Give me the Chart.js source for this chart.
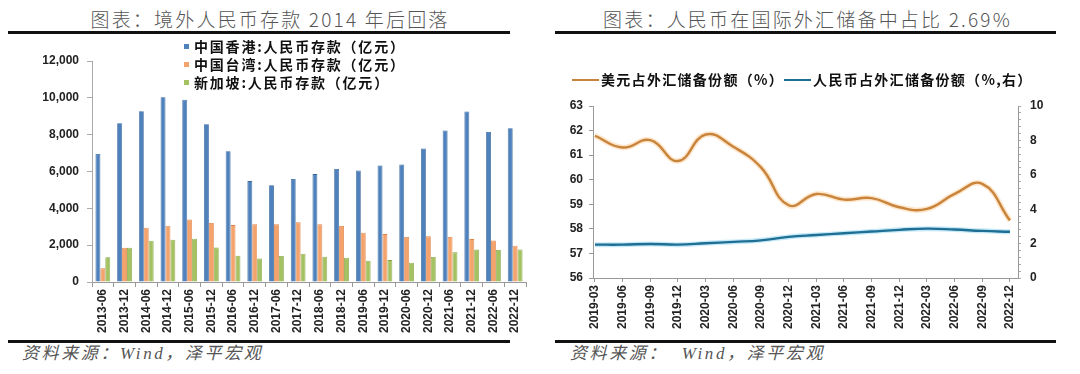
<!DOCTYPE html>
<html>
<head>
<meta charset="utf-8">
<script src="https://cdn.jsdelivr.net/npm/chart.js@4.4.1/dist/chart.umd.min.js"></script>
<style>
  html, body { margin:0; padding:0; background:#fff; }
  body { width:1080px; height:374px; position:relative; overflow:hidden; font-family:"Noto Sans CJK SC", sans-serif; }
  .abs { position:absolute; }
  .title { font-family:"Noto Sans CJK SC", "Liberation Serif", serif; font-weight:300; font-size:19px; color:#555; white-space:nowrap; letter-spacing:2.2px; line-height:20px; }
  .rule { background:#111; }
  .src { font-family:"Liberation Serif", "Noto Sans CJK SC", serif; font-style:italic; font-size:17px; color:#555; white-space:nowrap; letter-spacing:2.6px; line-height:18px; }
  .leg { font-weight:700; font-size:14px; color:#111; white-space:nowrap; line-height:18px; letter-spacing:1.8px; }
  .leg2 { letter-spacing:1.3px; }
  .sw { display:inline-block; width:5px; height:5px; margin-right:5px; vertical-align:middle; position:relative; top:-2px; }
  .ln { display:inline-block; width:27px; height:2px; margin-right:2px; vertical-align:middle; position:relative; top:-1px; }
  canvas { position:absolute; }
</style>
</head>
<body>
<div class="abs title" id="t1" style="left:0;width:540px;text-align:center;top:9px;">图表：境外人民币存款 2014 年后回落</div>
<div class="abs rule" style="left:8px;width:502px;top:31px;height:3px;"></div>
<div class="abs rule" style="left:8px;width:502px;top:340px;height:3px;"></div>
<div class="abs src" style="left:22px;top:345px;">资料来源：Wind，泽平宏观</div>

<div class="abs title" id="t2" style="left:555px;width:505px;text-align:center;top:9px;">图表：人民币在国际外汇储备中占比 2.69%</div>
<div class="abs rule" style="left:555px;width:501px;top:31px;height:3px;"></div>
<div class="abs rule" style="left:555px;width:501px;top:340px;height:3px;"></div>
<div class="abs src" style="left:570px;top:345px;">资料来源：&nbsp; Wind，泽平宏观</div>

<canvas id="c1" style="left:0;top:36px;" width="540" height="306"></canvas>
<canvas id="c2" style="left:540px;top:36px;" width="540" height="306"></canvas>

<div class="abs" id="leg1" style="left:184px;top:37px;"></div>
<div class="abs" id="leg2" style="left:572px;top:70px;"></div>

<script>
// ---------- Data: chart 1 (offshore RMB deposits, 亿元) ----------
const categories1 = ['2013-06','2013-12','2014-06','2014-12','2015-06','2015-12','2016-06','2016-12','2017-06','2017-12','2018-06','2018-12','2019-06','2019-12','2020-06','2020-12','2021-06','2021-12','2022-06','2022-12'];
const hongKong  = [6950,8620,9270,10030,9900,8570,7100,5480,5260,5590,5860,6140,6050,6320,6380,7250,8230,9260,8150,8350];
const taiwan    = [740,1860,2950,3060,3400,3200,3090,3130,3130,3240,3130,3040,2680,2600,2440,2480,2440,2330,2260,1970];
const singapore = [1340,1860,2240,2300,2350,1880,1430,1280,1410,1540,1370,1320,1160,1190,1050,1360,1610,1770,1740,1770];
const seriesNames1 = ['中国香港:人民币存款（亿元）','中国台湾:人民币存款（亿元）','新加坡:人民币存款（亿元）'];
const yTicks1 = [0,2000,4000,6000,8000,10000,12000];

// ---------- Data: chart 2 (share of FX reserves, %) ----------
const categories2 = ['2019-03','2019-06','2019-09','2019-12','2020-03','2020-06','2020-09','2020-12','2021-03','2021-06','2021-09','2021-12','2022-03','2022-06','2022-09','2022-12'];
const usdShare = [61.79,61.31,61.61,60.76,61.84,61.34,60.50,58.96,59.42,59.19,59.25,58.88,58.81,59.42,59.83,58.34];
const rmbShare = [1.94,1.94,1.98,1.94,2.02,2.10,2.19,2.39,2.50,2.60,2.70,2.80,2.87,2.82,2.74,2.69];
const seriesNames2 = ['美元占外汇储备份额（%）','人民币占外汇储备份额（%,右）'];
const leftTicks2 = [56,57,58,59,60,61,62,63];
const rightTicks2 = [0,2,4,6,8,10];

// ---------- Styles ----------
const barFill   = ['#4F81BD','#F4A36C','#A4C262'];
const barBorder = ['#3B6A9F','#E0844A','#86A544'];
const lineColor = ['#C9843C','#1F6F95'];
const glowColor = ['rgba(250,200,140,0.45)','rgba(150,215,240,0.55)'];
const tickFont = { family:'"Liberation Sans", Arial, sans-serif', size:12, weight:'bold' };

// legends (HTML)
document.getElementById('leg1').innerHTML = seriesNames1.map((n,i)=>
  `<div class="leg"><span class="sw" style="background:${barFill[i]}"></span>${n}</div>`).join('');
document.getElementById('leg2').innerHTML = '<div class="leg leg2">' + seriesNames2.map((n,i)=>
  `<span class="ln" style="background:${lineColor[i]}"></span>${n}`).join('') + '</div>';

// ---------- Chart 1 ----------
new Chart(document.getElementById('c1'), {
  type:'bar',
  data:{
    labels:categories1,
    datasets:[hongKong,taiwan,singapore].map((d,i)=>({
      label:seriesNames1[i], data:d, backgroundColor:barFill[i], borderColor:barBorder[i], borderWidth:0.8,
      barPercentage:1.0, categoryPercentage:0.68
    }))
  },
  options:{
    responsive:false, animation:false, devicePixelRatio:1,
    layout:{ padding:{ top:25, right:14, left:0, bottom:0 } },
    plugins:{ legend:{ display:false }, tooltip:{ enabled:false } },
    scales:{
      x:{
        grid:{ display:true, drawOnChartArea:false, drawTicks:true, tickLength:5, color:'#999', offset:true },
        border:{ display:true, color:'#999', width:1 },
        ticks:{ font:tickFont, color:'#222', minRotation:90, maxRotation:90, autoSkip:false, padding:2 },
        afterFit:(s)=>{ s.height = 60; }
      },
      y:{
        min:0, max:12000,
        afterBuildTicks:(s)=>{ s.ticks = yTicks1.map(v=>({value:v})); },
        grid:{ display:true, drawOnChartArea:false, drawTicks:true, tickLength:5, color:'#aaa' },
        border:{ display:true, color:'#aaa', width:1 },
        ticks:{ font:tickFont, color:'#222', padding:8, callback:(v)=>v.toLocaleString('en-US') },
        afterFit:(s)=>{ s.width = 92; }
      }
    }
  }
});

// ---------- Chart 2 ----------
const minorRight = [];
for (let k=0;k<=25;k++) minorRight.push(Math.round(k*0.4*10)/10);
const pts = (arr)=>arr.map((v,i)=>({x:i,y:v}));
new Chart(document.getElementById('c2'), {
  type:'line',
  data:{
    datasets:[
      { label:seriesNames2[0], data:pts(usdShare), yAxisID:'y', borderColor:lineColor[0], borderWidth:2.4, pointRadius:0, tension:0.45, order:1 },
      { label:'glow0', data:pts(usdShare), yAxisID:'y', borderColor:glowColor[0], borderWidth:5.5, pointRadius:0, tension:0.45, order:3 },
      { label:seriesNames2[1], data:pts(rmbShare), yAxisID:'y1', borderColor:lineColor[1], borderWidth:2.4, pointRadius:0, tension:0.45, order:0 },
      { label:'glow1', data:pts(rmbShare), yAxisID:'y1', borderColor:glowColor[1], borderWidth:5, pointRadius:0, tension:0.45, order:2 }
    ]
  },
  options:{
    responsive:false, animation:false, devicePixelRatio:1,
    layout:{ padding:{ top:70, right:0, left:0, bottom:0 } },
    plugins:{ legend:{ display:false }, tooltip:{ enabled:false } },
    scales:{
      x:{
        type:'linear', min:-0.072, max:15.29,
        afterBuildTicks:(s)=>{ s.ticks = categories2.map((_,i)=>({value:i})); },
        grid:{ display:true, drawOnChartArea:false, drawTicks:true, tickLength:4, color:'#999' },
        border:{ display:true, color:'#999', width:1 },
        ticks:{ font:tickFont, color:'#222', minRotation:90, maxRotation:90, autoSkip:false, padding:3, callback:(v)=>categories2[v] },
        afterFit:(s)=>{ s.height = 64; }
      },
      y:{
        position:'left', min:56, max:63,
        afterBuildTicks:(s)=>{ s.ticks = leftTicks2.map(v=>({value:v})); },
        grid:{ display:true, drawOnChartArea:false, drawTicks:true, tickLength:4, color:'#999' },
        border:{ display:true, color:'#999', width:1 },
        ticks:{ font:tickFont, color:'#222', padding:6 },
        afterFit:(s)=>{ s.width = 53; }
      },
      y1:{
        position:'right', min:0, max:10,
        afterBuildTicks:(s)=>{ s.ticks = minorRight.map(v=>({value:v})); },
        grid:{ display:true, drawOnChartArea:false, drawTicks:true, tickLength:3, color:'#aaa' },
        border:{ display:true, color:'#999', width:1 },
        ticks:{ font:tickFont, color:'#222', padding:9, autoSkip:false,
          callback:(v)=>{ const r=Math.round(v*10)/10; return rightTicks2.includes(r) ? String(r) : ''; } },
        afterFit:(s)=>{ s.width = 62; }
      }
    }
  }
});
</script>
</body>
</html>
